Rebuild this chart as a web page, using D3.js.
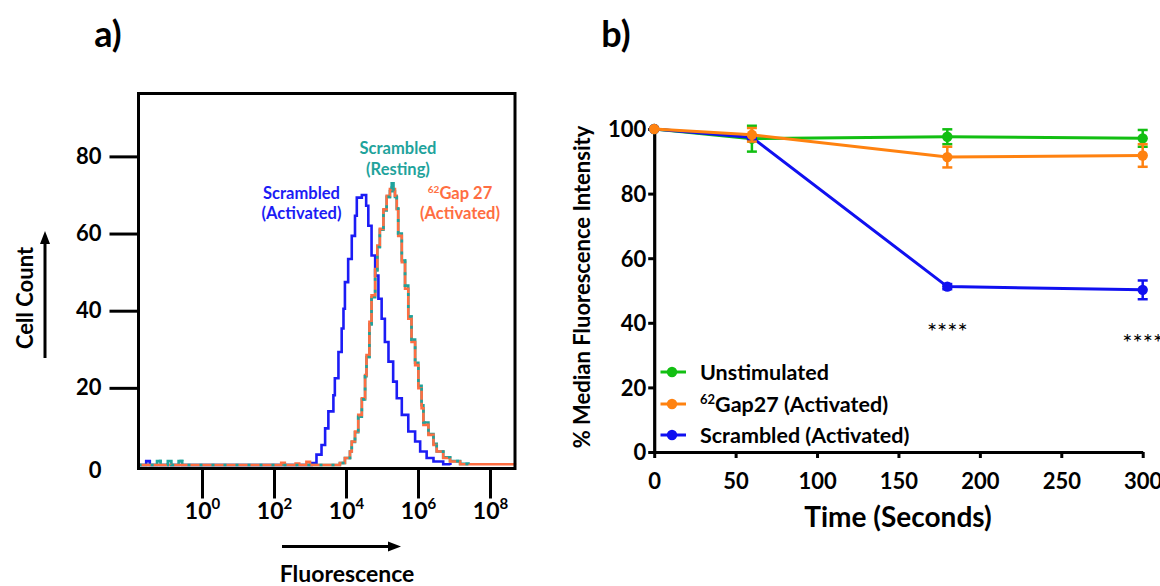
<!DOCTYPE html>
<html>
<head>
<meta charset="utf-8">
<script src="https://cdn.jsdelivr.net/npm/d3@7"></script>
<style>
body { margin: 0; background: #fff; }
text { font-family: Lato, "Open Sans", sans-serif; }
</style>
</head>
<body>
<svg id="chart" width="1160" height="586" viewBox="0 0 1160 586"></svg>
<script>
// ---- panel a : histogram, [log10 fluorescence, cell count] ----
var scrambledActivated = [[-1.76,0],[-1.55,1],[-1.45,0],[3.05,0.5],[3.18,2.7],[3.32,5.2],[3.42,9.5],[3.51,13.9],[3.65,18.1],
  [3.69,22.5],[3.79,29.3],[3.88,35.4],[3.93,40.5],[3.97,47.4],[4.06,53.4],[4.16,59.4],[4.25,64.6],
  [4.30,69.3],[4.44,70],[4.56,67.2],[4.62,62],[4.71,54.3],[4.81,49.1],[4.90,43.1],[4.99,37.9],
  [5.08,31.9],[5.18,26.8],[5.31,21.6],[5.41,17.3],[5.55,13],[5.73,8.7],[5.92,6.1],[6.06,3.5],
  [6.24,1.8],[6.43,0.9],[6.70,0.2],[6.9,0]];
var scrambledResting = [[-1.76,0],[-1.25,1],[-1.15,0],[-0.95,1],[-0.85,0],[-0.65,1],[-0.55,0],[3.83,0.5],[3.97,1.8],
  [4.11,3.5],[4.16,6],[4.25,8.5],[4.34,12.5],[4.44,17],[4.53,23],[4.57,28],[4.65,36.5],[4.71,43.5],
  [4.81,50.5],[4.87,56.5],[4.94,61],[5.04,66],[5.13,69.5],[5.22,71],[5.27,73],[5.32,71],[5.36,69.5],
  [5.41,66.5],[5.45,60],[5.55,53],[5.64,46.5],[5.73,38.5],[5.82,32.5],[5.92,26.5],[6.01,20.5],
  [6.10,15.5],[6.15,11],[6.29,8],[6.43,5.5],[6.52,3.5],[6.70,2],[6.89,1],[7.17,0.3],[7.4,0]];
var gap27Activated = [[-1.76,0],[2.2,0.6],[2.3,0],[2.6,0.4],[2.7,0],[2.9,0.8],[3.0,0],[3.83,0.5],[3.97,1.8],[4.11,3.5],
  [4.16,6.1],[4.25,8.7],[4.34,13],[4.44,17.3],[4.53,23.3],[4.57,28.5],[4.65,37.1],[4.71,44],
  [4.81,50.8],[4.87,56.9],[4.94,61.2],[5.04,66.3],[5.13,69.8],[5.22,71.5],[5.36,69.8],[5.41,66.3],
  [5.45,59.4],[5.55,52.6],[5.64,45.7],[5.73,37.9],[5.82,31.9],[5.92,25.9],[6.01,19.9],[6.10,14.7],
  [6.15,10.4],[6.29,7.8],[6.43,5.2],[6.52,3.5],[6.70,1.8],[6.89,0.9],[7.17,0.2],[8.69,0]];
var countTicks = [0, 20, 40, 60, 80];
var decadeTicks = [0, 2, 4, 6, 8];

// ---- panel b : % median fluorescence intensity over time ----
var timePoints = [0, 60, 180, 300];
var unstimMean = [100, 97, 97.6, 97.1];
var unstimErr = [0, 4, 2.3, 2.6];
var gap27Mean = [100, 98.2, 91.3, 91.8];
var gap27Err = [0, 2.1, 3.2, 3.5];
var scrambledMean = [100, 97.4, 51.2, 50.2];
var scrambledErr = [0, 0.6, 0.8, 2.9];
var timeTicks = [0, 50, 100, 150, 200, 250, 300];
var mfiTicks = [0, 20, 40, 60, 80, 100];

var svg = d3.select("#chart");

// ================= panel a =================
var frameLeft = 138.5, frameTop = 93.5, frameRight = 515, frameBottom = 468.5;

var xDecade = d3.scaleLinear().domain([0, 8]).range([202, 490]);
var yCount = d3.scaleLinear().domain([0, 96.3]).range([465, frameTop]);

var stepLine = d3.line()
  .x(function (d) { return xDecade(d[0]); })
  .y(function (d) { return yCount(d[1]); })
  .curve(d3.curveStepAfter);

var histG = svg.append("g");
histG.append("path").datum(scrambledActivated)
  .attr("d", stepLine).attr("fill", "none").attr("stroke", "#1c1cf5").attr("stroke-width", 2.6);
histG.append("path").datum(scrambledResting)
  .attr("d", stepLine).attr("fill", "none").attr("stroke", "#1fa39c").attr("stroke-width", 2.6);
histG.append("path").datum(gap27Activated)
  .attr("d", stepLine).attr("fill", "none").attr("stroke", "#ff6e42").attr("stroke-width", 2.6);
//青色曲线用虚线再叠一次，做出交错的效果
histG.append("path").datum(scrambledResting)
  .attr("d", stepLine).attr("fill", "none").attr("stroke", "#1fa39c").attr("stroke-width", 2.6)
  .attr("stroke-dasharray", "3,9");

svg.append("rect")
  .attr("x", frameLeft).attr("y", frameTop)
  .attr("width", frameRight - frameLeft).attr("height", frameBottom - frameTop)
  .attr("fill", "none").attr("stroke", "#000").attr("stroke-width", 3);

var yAxisA = d3.axisLeft(yCount).tickValues(countTicks).tickSize(29).tickPadding(8);
var yAxisAG = svg.append("g")
  .attr("transform", "translate(" + frameLeft + ",0)")
  .call(yAxisA);
yAxisAG.select(".domain").remove();
yAxisAG.selectAll(".tick line").attr("stroke-width", 3)
  .filter(function (d) { return d == 0; }).remove();
yAxisAG.selectAll(".tick text")
  .attr("font-size", 22).attr("font-weight", "bold").attr("fill", "#000")
  .attr("font-family", "Lato");
yAxisAG.selectAll(".tick").filter(function (d) { return d == 0; })
  .select("text").attr("y", 5);

var xAxisA = d3.axisBottom(xDecade).tickValues(decadeTicks).tickSize(30);
var xAxisAG = svg.append("g")
  .attr("transform", "translate(0," + frameBottom + ")")
  .call(xAxisA);
xAxisAG.select(".domain").remove();
xAxisAG.selectAll(".tick line").attr("stroke-width", 3);
xAxisAG.selectAll(".tick text").each(function (d) {
  var t = d3.select(this).text(null)
    .attr("y", 50).attr("dy", 0)
    .attr("font-size", 23).attr("font-weight", "bold").attr("fill", "#000")
    .attr("font-family", "Lato");
  t.append("tspan").text("10");
  t.append("tspan").attr("dy", -10).attr("font-size", 15).text(d);
});

// axis arrows and titles
svg.append("line").attr("x1", 282).attr("y1", 546.5).attr("x2", 390).attr("y2", 546.5)
  .attr("stroke", "#000").attr("stroke-width", 3);
svg.append("path").attr("d", "M388,541.5 L401,546.5 L388,551.5 Z").attr("fill", "#000");
svg.append("text").attr("x", 347).attr("y", 582).attr("text-anchor", "middle")
  .attr("font-size", 23).attr("font-weight", "bold").text("Fluorescence");

svg.append("line").attr("x1", 45).attr("y1", 358).attr("x2", 45).attr("y2", 242)
  .attr("stroke", "#000").attr("stroke-width", 3);
svg.append("path").attr("d", "M40,244 L45,231 L50,244 Z").attr("fill", "#000");
svg.append("text").attr("transform", "translate(33,298) rotate(-90)").attr("text-anchor", "middle")
  .attr("font-size", 22).attr("font-weight", "bold").text("Cell Count");

// labels on the histogram
function twoLines(x, y1, y2, color, first, second, sup) {
  var t1 = svg.append("text").attr("x", x).attr("y", y1).attr("text-anchor", "middle")
    .attr("font-size", 16.5).attr("font-weight", "bold").attr("fill", color);
  if (sup) {
    t1.append("tspan").attr("font-size", 10).attr("dy", -6).text(sup);
    t1.append("tspan").attr("dy", 6).text(first);
  } else {
    t1.text(first);
  }
  svg.append("text").attr("x", x).attr("y", y2).attr("text-anchor", "middle")
    .attr("font-size", 16.5).attr("font-weight", "bold").attr("fill", color).text(second);
}
twoLines(301.5, 198.5, 219, "#1c1cf5", "Scrambled", "(Activated)");
twoLines(398, 154, 175, "#1fa39c", "Scrambled", "(Resting)");
twoLines(460, 198.5, 219, "#ff6e42", "Gap 27", "(Activated)", "62");

svg.append("text").attr("x", 108).attr("y", 47).attr("text-anchor", "middle")
  .attr("font-size", 36).attr("font-weight", "bold").text("a)");

// ================= panel b =================
var xTime = d3.scaleLinear().domain([0, 300]).range([654.2, 1142.7]);
var yMfi = d3.scaleLinear().domain([0, 100]).range([452, 129]);

var xAxisB = d3.axisBottom(xTime).tickValues(timeTicks).tickSize(6).tickSizeOuter(0).tickPadding(15);
var xAxisBG = svg.append("g").attr("transform", "translate(0,452)").call(xAxisB);
var yAxisB = d3.axisLeft(yMfi).tickValues(mfiTicks).tickSize(6).tickSizeOuter(0).tickPadding(2);
var yAxisBG = svg.append("g").attr("transform", "translate(654.2,0)").call(yAxisB);
[xAxisBG, yAxisBG].forEach(function (g) {
  g.select(".domain").attr("stroke-width", 3.2);
  g.selectAll(".tick line").attr("stroke-width", 3);
  g.selectAll(".tick text").attr("font-size", 22).attr("font-weight", "bold")
    .attr("fill", "#000").attr("font-family", "Lato");
});
yAxisBG.selectAll(".tick text").attr("dy", "0.36em");

var seriesB = [
  { name: "Unstimulated", mean: unstimMean, err: unstimErr, color: "#12bf12" },
  { name: "Scrambled (Activated)", mean: scrambledMean, err: scrambledErr, color: "#1010f0" },
  { name: "Gap27 (Activated)", mean: gap27Mean, err: gap27Err, color: "#ff8210" }
];

var meanLine = d3.line()
  .x(function (d) { return xTime(d.t); })
  .y(function (d) { return yMfi(d.m); });

seriesB.forEach(function (s) {
  var pts = timePoints.map(function (t, i) { return { t: t, m: s.mean[i], e: s.err[i] }; });
  var g = svg.append("g");
  g.append("path").datum(pts).attr("d", meanLine)
    .attr("fill", "none").attr("stroke", s.color).attr("stroke-width", 3);
  var eb = g.selectAll(".err").data(pts.filter(function (d) { return d.e > 0; })).enter().append("g");
  eb.append("line")
    .attr("x1", function (d) { return xTime(d.t); }).attr("x2", function (d) { return xTime(d.t); })
    .attr("y1", function (d) { return yMfi(d.m + d.e); }).attr("y2", function (d) { return yMfi(d.m - d.e); })
    .attr("stroke", s.color).attr("stroke-width", 2.5);
  [1, -1].forEach(function (sign) {
    eb.append("line")
      .attr("x1", function (d) { return xTime(d.t) - 5; }).attr("x2", function (d) { return xTime(d.t) + 5; })
      .attr("y1", function (d) { return yMfi(d.m + sign * d.e); }).attr("y2", function (d) { return yMfi(d.m + sign * d.e); })
      .attr("stroke", s.color).attr("stroke-width", 2.5);
  });
  g.selectAll("circle").data(pts).enter().append("circle")
    .attr("cx", function (d) { return xTime(d.t); })
    .attr("cy", function (d) { return yMfi(d.m); })
    .attr("r", 5.2).attr("fill", s.color);
});

// significance stars
svg.append("text").attr("x", xTime(180)).attr("y", 340).attr("text-anchor", "middle")
  .attr("font-size", 24).attr("font-family", "DejaVu Sans").attr("fill", "#000").text("****");
svg.append("text").attr("x", xTime(300)).attr("y", 351).attr("text-anchor", "middle")
  .attr("font-size", 24).attr("font-family", "DejaVu Sans").attr("fill", "#000").text("****");

// legend
var legendItems = [
  { name: "Unstimulated", color: "#12bf12", y: 372, sup: null },
  { name: "Gap27 (Activated)", color: "#ff8210", y: 404, sup: "62" },
  { name: "Scrambled (Activated)", color: "#1010f0", y: 435, sup: null }
];
legendItems.forEach(function (d) {
  svg.append("line").attr("x1", 660.5).attr("x2", 686).attr("y1", d.y).attr("y2", d.y)
    .attr("stroke", d.color).attr("stroke-width", 3);
  svg.append("circle").attr("cx", 672).attr("cy", d.y).attr("r", 5.2).attr("fill", d.color);
  var t = svg.append("text").attr("x", 700).attr("y", d.y + 7.5)
    .attr("font-size", 21.5).attr("font-weight", "bold").attr("fill", "#000");
  if (d.sup) {
    t.append("tspan").attr("font-size", 13).attr("dy", -8).text(d.sup);
    t.append("tspan").attr("dy", 8).text(d.name);
  } else {
    t.text(d.name);
  }
});

svg.append("text").attr("x", 898).attr("y", 527).attr("text-anchor", "middle")
  .attr("font-size", 28).attr("font-weight", "bold").text("Time (Seconds)");
svg.append("text").attr("transform", "translate(590,287) rotate(-90)").attr("text-anchor", "middle")
  .attr("font-size", 22).attr("font-weight", "bold").text("% Median Fluorescence Intensity");

svg.append("text").attr("x", 616).attr("y", 47).attr("text-anchor", "middle")
  .attr("font-size", 36).attr("font-weight", "bold").text("b)");
</script>
</body>
</html>
